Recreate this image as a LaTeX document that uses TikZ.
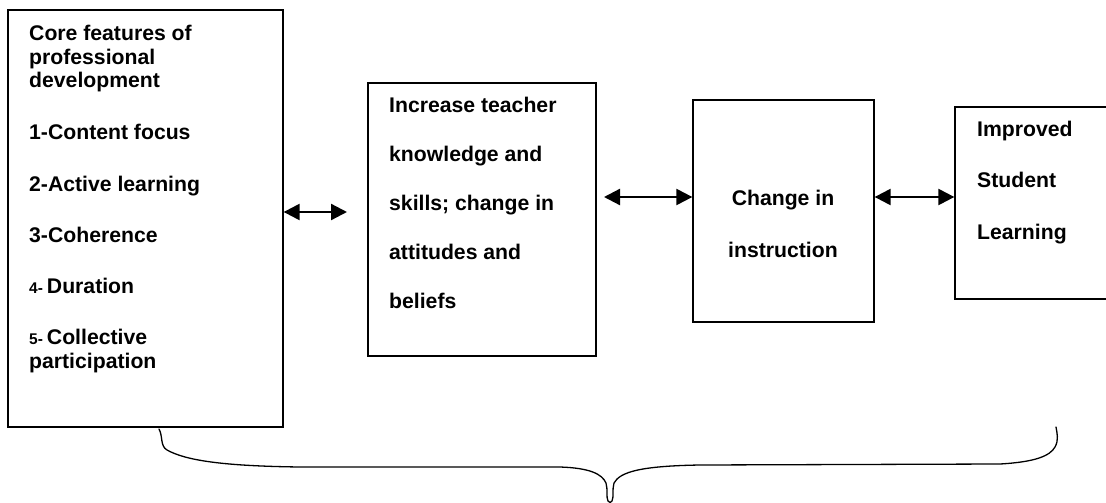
\documentclass[tikz,border=0pt]{standalone}
\usepackage{fontspec}
\setmainfont{Liberation Sans}
\usetikzlibrary{arrows.meta}
\begin{document}
\begin{tikzpicture}[x=1pt,y=-1pt,
  box/.style={draw, line width=1.3pt, rectangle, inner sep=0pt},
  txt/.style={anchor=base west, inner sep=0pt, font=\fontsize{21.2}{24}\selectfont\bfseries},
  ctxt/.style={txt, anchor=base},
  dbl/.style={line width=2.3pt, {Triangle[length=16pt,width=16pt]}-{Triangle[length=16pt,width=16pt]}},
  bracestyle/.style={line width=1.3pt, line join=round, line cap=round}]
\useasboundingbox (0,0) rectangle (1106,503);
\clip (0,0) rectangle (1106,503);
% boxes
\node[box, minimum width=275pt, minimum height=417pt] (b1) at (145.5,218.5) {};
\node[box, minimum width=228pt, minimum height=273pt] (b2) at (482,219.5) {};
\node[box, minimum width=181pt, minimum height=222pt] (b3) at (783.5,211) {};
\node[box, minimum width=155pt, minimum height=192pt] (b4) at (1032.5,203) {};
% box 1 text
\node[txt] (t11) at (29,41) {Core features of};
\node[txt] (t12) at (29,65) {professional};
\node[txt] (t13) at (29,88) {development};
\node[txt] (t14) at (29,139) {1-Content focus};
\node[txt] (t15) at (29,191) {2-Active learning};
\node[txt] (t16) at (29,242) {3-Coherence};
\node[txt] (t17) at (29,293) {{\fontsize{15.5}{16}\selectfont 4-}\hspace{4pt}Duration};
\node[txt] (t18) at (29,344) {{\fontsize{15.5}{16}\selectfont 5-}\hspace{4pt}Collective};
\node[txt] (t19) at (29,368) {participation};
% box 2 text
\node[txt] (t21) at (389,112) {Increase teacher};
\node[txt] (t22) at (389,161) {knowledge and};
\node[txt] (t23) at (389,210) {skills; change in};
\node[txt] (t24) at (389,259) {attitudes and};
\node[txt] (t25) at (389,308) {beliefs};
% box 3 text
\node[ctxt] (t31) at (783,205) {Change in};
\node[ctxt] (t32) at (783,257) {instruction};
% box 4 text
\node[txt] (t41) at (977,136) {Improved};
\node[txt] (t42) at (977,187) {Student};
\node[txt] (t43) at (977,239) {Learning};
% arrows
\coordinate (a1) at (347,212);
\coordinate (a2) at (604,197);
\coordinate (a3) at (874,197);
\draw[dbl] (b1.east |- a1) -- (a1);
\draw[dbl] (a2) -- (b3.west |- a2);
\draw[dbl] (b3.east |- a3) -- (b4.west |- a3);
% brace
\draw[bracestyle] (159,429) .. controls (163,436) and (160,446) .. (167,450)
  .. controls (185,460) and (220,466) .. (300,467) -- (560,467)
  .. controls (590,468) and (602,474) .. (606,483)
  .. controls (608,490) and (606,497) .. (608,501)
  .. controls (609,503) and (611,503) .. (612,501)
  .. controls (614,497) and (612,490) .. (614,483)
  .. controls (620,472) and (640,466) .. (700,465) -- (1000,464)
  .. controls (1035,462) and (1050,456) .. (1055,447)
  .. controls (1059,440) and (1057,433) .. (1056,427);
\end{tikzpicture}
\end{document}
